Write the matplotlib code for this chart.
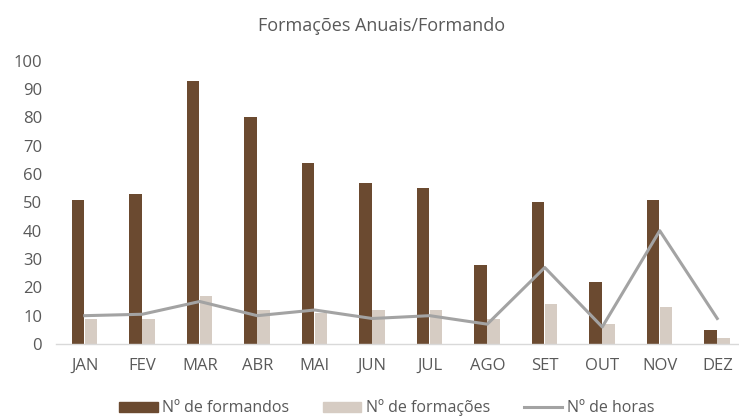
import numpy as np
import matplotlib
matplotlib.use("Agg")
import matplotlib.pyplot as plt
from matplotlib.lines import Line2D
from matplotlib.patches import Patch

# dados
meses = ["JAN", "FEV", "MAR", "ABR", "MAI", "JUN", "JUL", "AGO", "SET", "OUT", "NOV", "DEZ"]
formandos = [51, 53, 93, 80, 64, 57, 55, 28, 50, 22, 51, 5]
formacoes = [9, 9, 17, 12, 11, 12, 12, 9, 14, 7, 13, 2]
horas = [10, 10.5, 15, 10, 12, 9, 10, 7, 27, 6, 40, 9]
y_ticks = list(range(0, 101, 10))

plt.rcParams['font.family'] = ['Open Sans', 'DejaVu Sans']

W, H = 739, 416
fig = plt.figure(figsize=(W / 100, H / 100), dpi=100)
ax = fig.add_axes([56 / W, (H - 344) / H, (W - 56) / W, (344 - 60.7) / H])

x = np.arange(len(meses))
cor_escura = "#6B4A30"
cor_clara = "#D6CCC3"
cor_linha = "#A3A3A3"
cor_texto = "#595959"

ax.bar(x - 0.12, formandos, width=0.22, color=cor_escura, zorder=2)
ax.bar(x + 0.11, formacoes, width=0.22, color=cor_clara, zorder=2)
ax.plot(x, horas, color=cor_linha, linewidth=2.2, zorder=3)

ax.set_xlim(-0.5, -0.5 + (W - 56) / 57.5)
ax.set_ylim(0, 100)
ax.set_yticks(y_ticks)
ax.set_xticks(x)
ax.set_xticklabels(meses)

for s in ["top", "right", "left"]:
    ax.spines[s].set_visible(False)
ax.spines["bottom"].set_color("#D9D9D9")
ax.spines["bottom"].set_linewidth(1)
ax.tick_params(axis="both", length=0, labelsize=12, colors=cor_texto)
ax.tick_params(axis="y", pad=10)
ax.tick_params(axis="x", pad=10)

fig.text(382 / W, 1 - 26 / H, "Formações Anuais/Formando", ha="center", va="center",
         fontsize=13, color=cor_texto)

handles = [Patch(color=cor_escura, label="Nº de formandos"),
           Patch(color=cor_clara, label="Nº de formações"),
           Line2D([], [], color=cor_linha, linewidth=2.2, label="Nº de horas")]
fig.legend(handles=handles, loc="center", bbox_to_anchor=(387 / W, 1 - 408 / H), ncol=3,
           frameon=False, fontsize=11.5, labelcolor=cor_texto, handlelength=2.4,
           handleheight=0.55, handletextpad=0.3, columnspacing=2.1)

fig.savefig("out.png", dpi=100)
